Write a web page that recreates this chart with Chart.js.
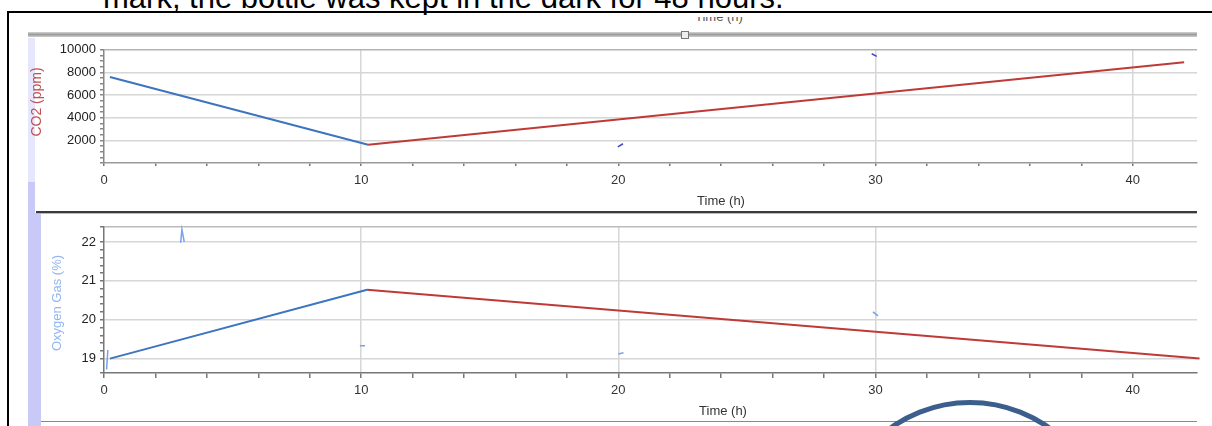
<!DOCTYPE html>
<html lang="en">
<head>
<meta charset="UTF-8" />
<title>CO2 and oxygen in the dark bottle</title>
<style>
  body {
    margin: 0;
    width: 1212px;
    height: 426px;
    overflow: hidden;
    position: relative;
    background: #fff;
    font-family: "Liberation Sans", Arial, sans-serif;
  }
  .abs { position: absolute; }
  #docText { left: 103px; top: -18px; font-size: 31px; line-height: 31px; color: #000; white-space: nowrap; }
  #frameTop { left: 7px; top: 11px; width: 1205px; height: 2px; background: #000; }
  #frameLeft { left: 7px; top: 11px; width: 2px; height: 415px; background: #000; }
  #cutTitle { left: 690px; top: 17px; width: 70px; height: 7px; overflow: hidden; }
  #cutTitle span { position: absolute; top: -8px; left: 5px; font-size: 13px; color: #555; white-space: nowrap; }
  #band { left: 28px; top: 32px; width: 1169px; height: 5px; background: linear-gradient(#d4d4d4, #9c9c9c 50%, #cfcfcf); }
  #handle { left: 681px; top: 31px; width: 6px; height: 6px; border: 1px solid #777; background: #eee; }
  #lavTopLight { left: 28px; top: 38px; width: 7px; height: 144px; background: #e6e6fc; }
  #lavTop { left: 28px; top: 182px; width: 7px; height: 31px; background: #c9c9f8; }
  #lavBottom { left: 28px; top: 213px; width: 13px; height: 213px; background: #c9c9f8; }
  #sep { left: 36px; top: 211px; width: 1161px; height: 2px; background: #3a3a3a; }
  #sepLight { left: 36px; top: 213px; width: 1161px; height: 1px; background: #bbb; }
  #bottomLine { left: 41px; top: 421px; width: 1156px; height: 1px; background: #888; }
  .ytitle { transform-origin: center center; transform: translate(-50%, -50%) rotate(-90deg); white-space: nowrap; }
  #co2Title { left: 36px; top: 102px; font-size: 14px; color: #c0504d; }
  #o2Title { left: 56px; top: 303px; font-size: 13px; color: #92b6f0; }
  .xtitle { font-size: 13px; color: #333; white-space: nowrap; transform: translate(-50%, -50%); }
  #timeTop { left: 721px; top: 200px; }
  #timeBottom { left: 723px; top: 410px; }
  #ring { left: 831px; top: 400px; width: 278px; height: 278px; box-sizing: border-box; border: 5px solid #3b5e8c; border-radius: 50%; }
  #co2Chart { left: 36px; top: 38px; }
  #o2Chart { left: 41px; top: 215px; }
</style>
</head>
<body>
  <div class="abs" id="docText">mark, the bottle was kept in the dark for 48 hours.</div>
  <div class="abs" id="frameTop"></div>
  <div class="abs" id="frameLeft"></div>
  <div class="abs" id="cutTitle"><span>Time (h)</span></div>
  <div class="abs" id="band"></div>
  <div class="abs" id="handle"></div>
  <div class="abs" id="lavTopLight"></div>
  <div class="abs" id="lavTop"></div>
  <div class="abs" id="lavBottom"></div>

  <canvas class="abs" id="co2Chart" width="1176" height="172"></canvas>
  <canvas class="abs" id="o2Chart" width="1171" height="205"></canvas>

  <div class="abs" id="sep"></div>
  <div class="abs" id="sepLight"></div>
  <div class="abs" id="bottomLine"></div>
  <div class="abs ytitle" id="co2Title">CO2 (ppm)</div>
  <div class="abs ytitle" id="o2Title">Oxygen Gas (%)</div>
  <div class="abs xtitle" id="timeTop">Time (h)</div>
  <div class="abs xtitle" id="timeBottom">Time (h)</div>
  <div class="abs" id="ring"></div>

  <script src="https://cdn.jsdelivr.net/npm/chart.js"></script>
  <script>
    // CO2 run: blue before the 10 h mark, red after
    const co2HoursA = [0.23, 10.27];
    const co2ValuesA = [7600, 1620];
    const co2HoursB = [10.27, 42.0];
    const co2ValuesB = [1620, 8900];
    // stray sensor marks on the CO2 graph
    const co2MarkHours = [19.98, 20.18, 25, 29.85, 30.05];
    const co2MarkValues = [1420, 1700, null, 9650, 9420];

    // Oxygen run
    const o2HoursA = [0.23, 10.23];
    const o2ValuesA = [19.0, 20.77];
    const o2HoursB = [10.23, 42.6];
    const o2ValuesB = [20.77, 19.0];
    const o2MarkHours = [0.1, 0.15, 1, 2.98, 3.03, 3.12, 6, 9.95, 10.15, 15, 20.0, 20.2, 25, 29.9, 30.1];
    const o2MarkValues = [18.72, 19.22, null, 21.98, 22.32, 22.0, null, 19.33, 19.33, null, 19.12, 19.15, null, 20.2, 20.1];

    const xTickLabels = [0, 10, 20, 30, 40];

    const BLUE = '#3d74c0';
    const RED = '#bf3a37';

    Chart.defaults.font.family = '"Liberation Sans", Arial, sans-serif';
    Chart.defaults.animation = false;

    const pts = (xs, ys) => xs.map((x, i) => ({ x: x, y: ys[i] }));

    function lineSet(xs, ys, color, width) {
      return { data: pts(xs, ys), borderColor: color, backgroundColor: color, borderWidth: width, pointRadius: 0, spanGaps: false, tension: 0 };
    }

    function xScale(max, gridAt, axisColor, tickLen) {
      return {
        type: 'linear', min: 0, max: max,
        ticks: {
          stepSize: 2, autoSkip: false, maxRotation: 0, padding: 10 - tickLen, color: '#333', font: { size: 13 },
          callback: v => xTickLabels.includes(v) ? String(v) : ''
        },
        grid: {
          lineWidth: 1.5,
          color: c => gridAt.includes(c.tick.value) ? '#d6d6d6' : 'transparent',
          tickColor: c => Number.isInteger(c.tick.value) ? '#777' : 'transparent',
          tickLength: tickLen
        },
        border: { color: axisColor, width: 1.5 },
        afterFit: s => { s.height = 47; }
      };
    }

    new Chart(document.getElementById('co2Chart'), {
      type: 'line',
      data: {
        datasets: [
          lineSet(co2HoursA, co2ValuesA, BLUE, 2),
          lineSet(co2HoursB, co2ValuesB, RED, 2),
          lineSet(co2MarkHours, co2MarkValues, '#4646c4', 1.5)
        ]
      },
      options: {
        responsive: false,
        layout: { padding: { top: 9, right: 15, left: 0, bottom: 0 } },
        plugins: { legend: { display: false }, tooltip: { enabled: false } },
        scales: {
          x: xScale(42.5, [10, 30, 40], '#9a9a9a', 3),
          y: {
            min: 0, max: 10000,
            ticks: {
              stepSize: 500, autoSkip: false, padding: 4, color: '#222', font: { size: 13 },
              callback: v => (v % 2000 === 0 && v > 0) ? String(v) : ''
            },
            grid: {
              lineWidth: 1.5,
              color: c => (c.tick.value % 2000 === 0 && c.tick.value > 0) ? (c.tick.value === 10000 ? '#b4b4b4' : '#d6d6d6') : 'transparent',
              tickColor: '#888',
              tickLength: 4
            },
            border: { color: '#888', width: 1.5 },
            afterFit: s => { s.width = 68; }
          }
        }
      }
    });

    new Chart(document.getElementById('o2Chart'), {
      type: 'line',
      data: {
        datasets: [
          lineSet(o2HoursA, o2ValuesA, BLUE, 2),
          lineSet(o2HoursB, o2ValuesB, RED, 2),
          lineSet(o2MarkHours, o2MarkValues, '#74a2f0', 1.5)
        ]
      },
      options: {
        responsive: false,
        clip: false,
        layout: { padding: { top: 8, right: 15, left: 0, bottom: 0 } },
        plugins: { legend: { display: false }, tooltip: { enabled: false } },
        scales: {
          x: xScale(42.5, [10, 20, 30], '#777', 5),
          y: {
            min: 18.63, max: 22.39,
            ticks: {
              stepSize: 0.2, autoSkip: false, padding: 4, color: '#222', font: { size: 13 },
              callback: v => Math.abs(v - Math.round(v)) < 0.001 ? String(Math.round(v)) : ''
            },
            grid: {
              lineWidth: 1.5,
              color: c => {
                const v = c.tick.value;
                if (Math.abs(v - 22.39) < 0.001) return '#bbb';
                return Math.abs(v - Math.round(v)) < 0.001 ? '#d6d6d6' : 'transparent';
              },
              tickColor: '#777',
              tickLength: 4
            },
            border: { color: '#777', width: 1.5 },
            afterFit: s => { s.width = 63; }
          }
        }
      }
    });
  </script>
</body>
</html>
